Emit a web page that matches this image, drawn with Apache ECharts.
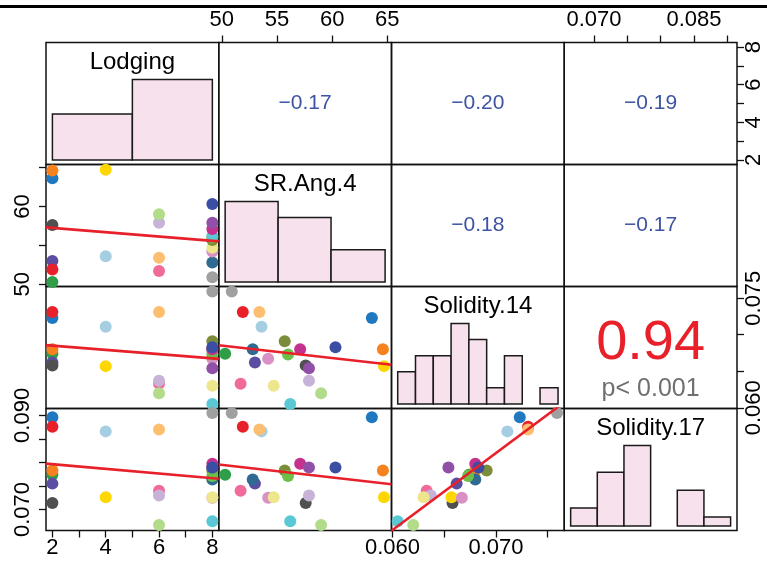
<!DOCTYPE html>
<html>
<head>
<meta charset="utf-8">
<script src="https://cdn.jsdelivr.net/npm/echarts@6/dist/echarts.min.js"></script>
<style>
  html, body { margin: 0; padding: 0; background: #fff; }
  #main { width: 767px; height: 563px; }
</style>
</head>
<body>
<div id="main"></div>
<script>
// variables in pairs order
const varNames = ['Lodging', 'SR.Ang.4', 'Solidity.14', 'Solidity.17'];

const pointColors = ['#1F78C0', '#2E9E48', '#5B4EA2', '#E8202A', '#505050', '#F5821F',
  '#A6CEE3', '#FFD700', '#F06A9A', '#FDBF6F', '#C8B3D8', '#B2DB8A',
  '#A0A0A0', '#2F6A92', '#D990C4', '#EDE68C', '#7B8C3A', '#6CC04A',
  '#5BC8D6', '#C4318F', '#9150A8', '#3A4FA3'];
const lodging = [2, 2, 2, 2, 2, 2, 4, 4, 6, 6, 6, 6, 8, 8, 8, 8, 8, 8, 8, 8, 8, 8];
const srAng4 = [63.6, 50.3, 53.0, 51.9, 57.6, 64.6, 53.6, 64.7, 51.7, 53.4, 57.9, 59.0,
  50.9, 52.8, 54.2, 54.7, 55.7, 56.0, 56.2, 57.1, 57.9, 60.3];
const solidity14 = [0.0723, 0.0674, 0.0662, 0.0731, 0.0658, 0.0680, 0.0711, 0.0657, 0.0633, 0.0731, 0.0637, 0.0620,
  0.0759, 0.0680, 0.0667, 0.0630, 0.0691, 0.0673, 0.0605, 0.0680, 0.0654, 0.0683];
const solidity17 = [0.0896, 0.0774, 0.0755, 0.0876, 0.0714, 0.0783, 0.0866, 0.0726, 0.0740, 0.0870, 0.0730, 0.0667,
  0.0905, 0.0764, 0.0725, 0.0726, 0.0783, 0.0771, 0.0675, 0.0797, 0.0789, 0.0789];

// diagonal histograms: bin edges and counts
const lodgingBreaks = [2, 5, 8];
const lodgingCounts = [8, 14];
const srBreaks = [50.3, 55.1, 59.9, 64.8];
const srCounts = [10, 8, 4];
const sol14Breaks = [0.0605, 0.06222, 0.06394, 0.06566, 0.06738, 0.0691, 0.07082, 0.07254, 0.07426, 0.0760];
const sol14Counts = [2, 3, 3, 5, 4, 1, 3, 0, 1];
const sol17Breaks = [0.0665, 0.0705, 0.0745, 0.0785, 0.0825, 0.0865, 0.0905];
const sol17Counts = [2, 6, 9, 0, 4, 1];

// upper panels: [row, col, text]
const corrLabels = [[0, 1, '\u22120.17'], [0, 2, '\u22120.20'], [0, 3, '\u22120.19'],
  [1, 2, '\u22120.18'], [1, 3, '\u22120.17']];
const bigCorr = '0.94';
const bigCorrP = 'p< 0.001';

// axis ticks and labels
const lodgingTicks = [2, 3, 4, 5, 6, 7, 8];
const lodgingLabels = [2, 4, 6, 8];
const srTicks = [50, 55, 60, 65];
const srLabelsTop = [50, 55, 60, 65];
const srLabelsLeft = [50, 60];
const sol14Ticks = [0.060, 0.065, 0.070, 0.075];
const sol14LabelsBottom = [0.060, 0.070];
const sol14LabelsRight = [0.060, 0.075];
const sol17Ticks = [0.070, 0.075, 0.080, 0.085, 0.090];
const sol17LabelsTop = [0.070, 0.085];
const sol17LabelsLeft = [0.070, 0.090];

const vars = [lodging, srAng4, solidity14, solidity17];
const hists = [[lodgingBreaks, lodgingCounts], [srBreaks, srCounts],
  [sol14Breaks, sol14Counts], [sol17Breaks, sol17Counts]];
const ranges = [[1.76, 8.24], [49.72, 65.38], [0.0599, 0.0766], [0.06554, 0.09146]];
const ticks = [lodgingTicks, srTicks, sol14Ticks, sol17Ticks];
const fmt = [v => String(v), v => String(v), v => v.toFixed(3), v => v.toFixed(3)];
// outer labels: x (top/bottom) by column, y (left/right) by row
const xLabels = [lodgingLabels, srLabelsTop, sol14LabelsBottom, sol17LabelsTop];
const yLabels = [lodgingLabels, srLabelsLeft, sol14LabelsRight, sol17LabelsLeft];

const GX = 46, GY = 42.5, CW = 172.75, RH = 122;
const FONT = 'Liberation Sans, Arial, Helvetica, sans-serif';

function fit(xs, ys) {
  const n = xs.length;
  const mx = xs.reduce((a, b) => a + b, 0) / n;
  const my = ys.reduce((a, b) => a + b, 0) / n;
  let sxy = 0, sxx = 0;
  for (let i = 0; i < n; i++) {
    sxy += (xs[i] - mx) * (ys[i] - my);
    sxx += (xs[i] - mx) * (xs[i] - mx);
  }
  const b = sxy / sxx;
  return [my - b * mx, b];
}

const grid = [], xAxis = [], yAxis = [], series = [], graphic = [];

for (let r = 0; r < 4; r++) {
  for (let c = 0; c < 4; c++) {
    const k = r * 4 + c;
    grid.push({
      left: GX + c * CW, top: GY + r * RH, width: CW, height: RH,
      show: true, borderColor: '#111', borderWidth: 1.5, backgroundColor: 'transparent'
    });

    const showX = (r === 0 && c % 2 === 1) || (r === 3 && c % 2 === 0);
    const topX = r === 0;
    xAxis.push({
      gridIndex: k, type: 'value', min: ranges[c][0], max: ranges[c][1],
      position: topX ? 'top' : 'bottom',
      axisLine: { show: false, onZero: false },
      splitLine: { show: false },
      axisTick: { show: showX, length: 7, customValues: ticks[c], lineStyle: { color: '#111', width: 1.3 } },
      axisLabel: {
        show: showX, customValues: xLabels[c], formatter: fmt[c],
        margin: topX ? 12 : 6, fontSize: 22, fontFamily: FONT, color: '#000'
      }
    });

    const showY = (c === 0 && r % 2 === 1) || (c === 3 && r % 2 === 0);
    const leftY = c === 0;
    let ymin = ranges[r][0], ymax = ranges[r][1];
    if (r === c) {
      const m = Math.max(...hists[r][1]);
      ymin = -0.057 * m; ymax = 1.46 * m;
    }
    yAxis.push({
      gridIndex: k, type: 'value', min: ymin, max: ymax,
      position: leftY ? 'left' : 'right',
      axisLine: { show: false, onZero: false },
      splitLine: { show: false },
      axisTick: { show: showY, length: 7, customValues: ticks[r], lineStyle: { color: '#111', width: 1.3 } },
      axisLabel: {
        show: showY, customValues: yLabels[r], formatter: fmt[r], rotate: 90,
        margin: leftY ? 12 : 6, fontSize: 22, fontFamily: FONT, color: '#000'
      }
    });

    const cx = GX + c * CW + CW / 2;
    const top = GY + r * RH;

    if (r > c) {
      const xs = vars[c], ys = vars[r];
      series.push({
        type: 'scatter', xAxisIndex: k, yAxisIndex: k, symbolSize: 12, silent: true,
        data: xs.map((x, i) => ({ value: [x, ys[i]], itemStyle: { color: pointColors[i], opacity: 1 } })),
        z: 2
      });
      const [a, b] = fit(xs, ys);
      const x0 = ranges[c][0], x1 = ranges[c][1];
      series.push({
        type: 'line', xAxisIndex: k, yAxisIndex: k, symbol: 'none', silent: true, clip: true,
        data: [[x0, a + b * x0], [x1, a + b * x1]],
        lineStyle: { color: '#E8202A', width: 2.6 }, z: 3
      });
    } else if (r === c) {
      const [br, cnt] = hists[r];
      series.push({
        type: 'custom', xAxisIndex: k, yAxisIndex: k, silent: true,
        data: cnt.map((n, i) => [br[i], br[i + 1], n]),
        encode: { x: [0, 1], y: 2 },
        renderItem: (params, api) => {
          const p0 = api.coord([api.value(0), 0]);
          const p1 = api.coord([api.value(1), api.value(2)]);
          if (api.value(2) === 0) return null;
          return {
            type: 'rect',
            shape: { x: p0[0], y: p1[1], width: p1[0] - p0[0], height: p0[1] - p1[1] },
            style: { fill: '#F7E1EC', stroke: '#1a1a1a', lineWidth: 1.5 }
          };
        }
      });
      graphic.push({
        type: 'text', x: cx, y: top + 19.5,
        style: { text: varNames[r], fontSize: 24, fontFamily: FONT, fill: '#000', align: 'center', verticalAlign: 'middle' }
      });
    }
  }
}

corrLabels.forEach(([r, c, t]) => {
  graphic.push({
    type: 'text', x: GX + c * CW + CW / 2, y: GY + r * RH + RH / 2,
    style: { text: t, fontSize: 21, fontFamily: FONT, fill: '#3E54A3', align: 'center', verticalAlign: 'middle' }
  });
});
graphic.push({
  type: 'text', x: GX + 3 * CW + CW / 2, y: GY + 2 * RH + 57,
  style: { text: bigCorr, fontSize: 56, fontFamily: FONT, fill: '#E8202A', align: 'center', verticalAlign: 'middle' }
});
graphic.push({
  type: 'text', x: GX + 3 * CW + CW / 2, y: GY + 2 * RH + 103,
  style: { text: bigCorrP, fontSize: 25, fontFamily: FONT, fill: '#707070', align: 'center', verticalAlign: 'middle' }
});
// rule across the top of the figure
graphic.push({
  type: 'line', shape: { x1: 0, y1: 6.5, x2: 767, y2: 6.5 },
  style: { stroke: '#000', lineWidth: 3 }
});

const chart = echarts.init(document.getElementById('main'));
chart.setOption({
  animation: false,
  backgroundColor: '#fff',
  grid, xAxis, yAxis, series, graphic
});
</script>
</body>
</html>
